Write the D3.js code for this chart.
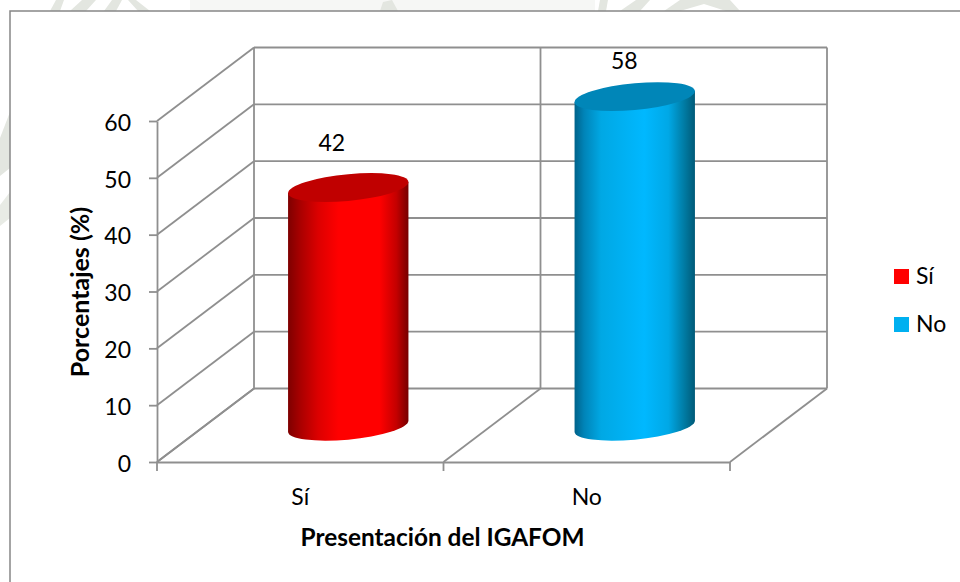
<!DOCTYPE html>
<html>
<head>
<meta charset="utf-8">
<script src="https://cdn.jsdelivr.net/npm/d3@7"></script>
<style>
  html, body { margin: 0; padding: 0; background: #fff; }
  svg { display: block; }
  text { font-family: Lato, "Open Sans", sans-serif; fill: #000; }
</style>
</head>
<body>
<div id="viz"></div>
<script>
var categories = ["Sí", "No"];
var values     = [42, 58];
var yTicks     = [0, 10, 20, 30, 40, 50, 60];
var barColors  = ["#ff0000", "#00b0f0"];

var width = 960, height = 582;

// front plane of the 3d box, and how far the back wall is shifted from it
var front = { left: 157, right: 730, top: 121, bottom: 462 };
var depth = { x: 97, y: -73.5 };
var gridColor = "#8f8f8f";

var svg = d3.select("#viz").append("svg")
    .attr("width", width)
    .attr("height", height);

// faint watermark of the page behind the chart
var wm = svg.append("g").attr("class", "watermark");
wm.append("rect").attr("x", 190).attr("y", 0).attr("width", 405).attr("height", 11).attr("fill", "#f6f7f5");
[
  "M50,11 L56,0 L64,0 L60,11 Z",
  "M70,11 L82,0 L96,0 L86,11 Z",
  "M104,11 L112,0 L122,0 L116,11 Z",
  "M128,0 L136,0 L150,11 L138,11 Z",
  "M380,11 L383,2 L392,0 L398,11 Z",
  "M598,11 L600,0 L608,0 L606,11 Z",
  "M620,11 L636,0 L650,0 L640,11 Z",
  "M664,11 L680,0 L730,0 L740,11 L726,11 L704,4 L680,11 Z"
].forEach(function(d) {
  wm.append("path").attr("d", d).attr("fill", "#e3e6e0");
});
wm.append("path").attr("d", "M0,138 L10,112 L10,168 L0,176 Z").attr("fill", "#e3e6e0");
wm.append("path").attr("d", "M0,205 L10,192 L10,218 L0,226 Z").attr("fill", "#e8ebe5");

// chart area, runs off the right and bottom of the picture
svg.append("rect")
    .attr("x", 10).attr("y", 11)
    .attr("width", width + 20).attr("height", height + 20)
    .attr("fill", "#fff")
    .attr("stroke", "#868686")
    .attr("stroke-width", 1.5);

var x = d3.scaleBand().domain(categories).range([front.left, front.right]);
var y = d3.scaleLinear().domain([0, 60]).range([front.bottom, front.top]);

var grid = svg.append("g")
    .attr("fill", "none")
    .attr("stroke", gridColor)
    .attr("stroke-width", 1.8);

// back wall horizontals and the slanted lines on the side wall
yTicks.forEach(function(t) {
  grid.append("line")
      .attr("x1", front.left + depth.x).attr("x2", front.right + depth.x)
      .attr("y1", y(t) + depth.y).attr("y2", y(t) + depth.y);
  grid.append("line")
      .attr("x1", front.left).attr("x2", front.left + depth.x)
      .attr("y1", y(t)).attr("y2", y(t) + depth.y);
});

// back wall verticals, floor lines and category ticks at the band edges
var edges = categories.map(function(c) { return x(c); }).concat([front.right]);
edges.forEach(function(e) {
  grid.append("line")
      .attr("x1", e + depth.x).attr("x2", e + depth.x)
      .attr("y1", y(60) + depth.y).attr("y2", y(0) + depth.y);
  grid.append("line")
      .attr("x1", e).attr("x2", e + depth.x)
      .attr("y1", y(0)).attr("y2", y(0) + depth.y);
  grid.append("line")
      .attr("x1", e).attr("x2", e)
      .attr("y1", y(0)).attr("y2", y(0) + 9);
});

// axes
var yAxis = svg.append("g")
    .attr("transform", "translate(" + front.left + ",0)")
    .call(d3.axisLeft(y).tickValues(yTicks).tickSize(8).tickPadding(18).tickSizeOuter(0));
var xAxis = svg.append("g")
    .attr("transform", "translate(0," + front.bottom + ")")
    .call(d3.axisBottom(x).tickSize(0).tickPadding(27));

[yAxis, xAxis].forEach(function(a) {
  a.selectAll("path, line").attr("stroke", gridColor).attr("stroke-width", 1.8);
  a.selectAll("text").style("font-family", "Lato, 'Open Sans', sans-serif").style("font-size", "23px").attr("fill", "#000");
});
yAxis.selectAll("text").attr("dy", "0.4em");

// cylinder shading
var defs = svg.append("defs");
var shades = [
  [["0%", "#7e0000"], ["10%", "#a80000"], ["25%", "#dc0000"], ["42%", "#ff0000"], ["76%", "#ff0000"], ["90%", "#c40000"], ["100%", "#760000"]],
  [["0%", "#00628a"], ["8%", "#0084b8"], ["22%", "#00a8e4"], ["58%", "#00b8ff"], ["78%", "#00a8e6"], ["92%", "#00789f"], ["100%", "#005a78"]]
];
var lids = ["#c00000", "#0086b8"];

categories.forEach(function(c, i) {
  defs.append("linearGradient")
      .attr("id", "shade" + i)
      .selectAll("stop")
      .data(shades[i])
      .enter()
      .append("stop")
      .attr("offset", function(d) { return d[0]; })
      .attr("stop-color", function(d) { return d[1]; });
});

// bars stand half way into the box; the shear gives the tilted ellipses
var rx = x.bandwidth() / 2.38 / 2,
    ry = 13.4,
    tilt = 5.5 / rx,
    baseY = y(0) + depth.y / 2 + 1;

var bars = svg.selectAll("g.bar")
    .data(values)
    .enter()
    .append("g")
    .attr("class", "bar")
    .attr("transform", function(d, i) {
      var cx = x(categories[i]) + x.bandwidth() / 2 + depth.x / 2 - 0.5;
      return "matrix(1," + (-tilt) + ",0,1," + cx + "," + baseY + ")";
    });

bars.append("path")
    .attr("d", function(d) {
      var top = y(d) - y(0);
      return "M" + (-rx) + "," + top + " L" + (-rx) + ",0 A" + rx + "," + ry + " 0 0 0 " + rx + ",0 L" + rx + "," + top + " Z";
    })
    .attr("fill", function(d, i) { return "url(#shade" + i + ")"; });

bars.append("ellipse")
    .attr("cy", function(d) { return y(d) - y(0); })
    .attr("rx", rx)
    .attr("ry", ry)
    .attr("fill", function(d, i) { return lids[i]; });

// data labels, nudged from the lid centre like in the original
var labelNudge = [[-17, -37], [-11, -28]];
svg.selectAll("text.value")
    .data(values)
    .enter()
    .append("text")
    .attr("class", "value")
    .attr("text-anchor", "middle")
    .style("font-size", "23px")
    .attr("x", function(d, i) { return x(categories[i]) + x.bandwidth() / 2 + depth.x / 2 + labelNudge[i][0]; })
    .attr("y", function(d, i) { return y(d) + depth.y / 2 + 1 + labelNudge[i][1]; })
    .text(function(d) { return d; });

// axis titles
svg.append("text")
    .attr("transform", "translate(89,292) rotate(-90)")
    .attr("text-anchor", "middle")
    .style("font-size", "25px")
    .style("font-weight", "700")
    .text("Porcentajes (%)");
svg.append("text")
    .attr("x", 442.5).attr("y", 546)
    .attr("text-anchor", "middle")
    .style("font-size", "24.4px")
    .style("font-weight", "700")
    .text("Presentación del IGAFOM");

// legend
var legend = svg.selectAll("g.legend")
    .data(categories)
    .enter()
    .append("g")
    .attr("class", "legend")
    .attr("transform", function(d, i) { return "translate(894," + (269 + i * 48) + ")"; });
legend.append("rect")
    .attr("width", 15).attr("height", 15)
    .attr("fill", function(d, i) { return barColors[i]; });
legend.append("text")
    .attr("x", 22).attr("y", 15)
    .style("font-size", "23px")
    .text(function(d) { return d; });
</script>
</body>
</html>
